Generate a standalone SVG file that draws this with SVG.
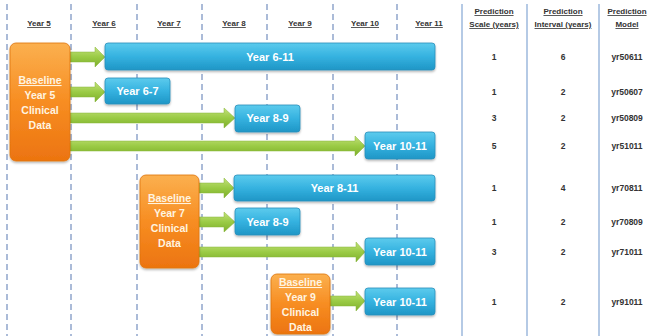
<svg xmlns="http://www.w3.org/2000/svg" width="653" height="336" viewBox="0 0 653 336">
<defs>
<linearGradient id="gBlue" x1="0" y1="0" x2="0" y2="1">
<stop offset="0" stop-color="#5ccbed"/><stop offset="0.5" stop-color="#35b2e0"/><stop offset="1" stop-color="#1f96c6"/>
</linearGradient>
<linearGradient id="gOrange" x1="0" y1="0" x2="0" y2="1">
<stop offset="0" stop-color="#fbb04f"/><stop offset="0.5" stop-color="#f78d22"/><stop offset="1" stop-color="#ec7410"/>
</linearGradient>
<linearGradient id="gGreen" x1="0" y1="0" x2="0" y2="1">
<stop offset="0" stop-color="#c3e07a"/><stop offset="0.5" stop-color="#9acb45"/><stop offset="1" stop-color="#7eae2c"/>
</linearGradient>
<filter id="sh" x="-10%" y="-20%" width="120%" height="150%">
<feDropShadow dx="0" dy="1.5" stdDeviation="1.2" flood-color="#000" flood-opacity="0.3"/>
</filter>
</defs>
<style>
.grid{stroke:#7f97c4;stroke-width:1.3;stroke-dasharray:6 4;fill:none}
.tbl{stroke:#9cb9dc;stroke-width:1.5;fill:none}
.hdr{font-family:"Liberation Sans",Arial,sans-serif;font-weight:bold;font-size:8px;fill:#333;text-anchor:middle;text-decoration:underline}
.val{font-family:"Liberation Sans",Arial,sans-serif;font-weight:bold;font-size:8.5px;fill:#333;text-anchor:middle}
.blue{fill:url(#gBlue);stroke:#2a8fbb;stroke-width:0.8;filter:url(#sh)}
.orange{fill:url(#gOrange);stroke:#e0740e;stroke-width:0.8;filter:url(#sh)}
.arrow{fill:url(#gGreen);stroke:#86b43a;stroke-width:0.5}
.bt{font-family:"Liberation Sans",Arial,sans-serif;font-weight:bold;font-size:11px;fill:#fff;text-anchor:middle}
.ot{font-family:"Liberation Sans",Arial,sans-serif;font-weight:bold;font-size:10.5px;fill:#fff4e0;text-anchor:middle}
</style>
<rect width="653" height="336" fill="#fff"/>
<g id="grid">
<line class="grid" x1="7" y1="4" x2="7" y2="336"/>
<line class="grid" x1="71" y1="4" x2="71" y2="336"/>
<line class="grid" x1="137" y1="4" x2="137" y2="336"/>
<line class="grid" x1="202" y1="4" x2="202" y2="336"/>
<line class="grid" x1="267" y1="4" x2="267" y2="336"/>
<line class="grid" x1="333" y1="4" x2="333" y2="336"/>
<line class="grid" x1="397" y1="4" x2="397" y2="336"/>
<line class="tbl" x1="462" y1="4" x2="462" y2="336"/>
<line class="tbl" x1="527" y1="4" x2="527" y2="336"/>
<line class="tbl" x1="599" y1="4" x2="599" y2="336"/>
</g>
<g id="headers">
<text class="hdr" x="39" y="26">Year 5</text>
<text class="hdr" x="104" y="26">Year 6</text>
<text class="hdr" x="169" y="26">Year 7</text>
<text class="hdr" x="234" y="26">Year 8</text>
<text class="hdr" x="300" y="26">Year 9</text>
<text class="hdr" x="365" y="26">Year 10</text>
<text class="hdr" x="429" y="26">Year 11</text>
<text class="hdr" x="494" y="14">Prediction</text>
<text class="hdr" x="494" y="27">Scale (years)</text>
<text class="hdr" x="563" y="14">Prediction</text>
<text class="hdr" x="563" y="27">Interval (years)</text>
<text class="hdr" x="627" y="14">Prediction</text>
<text class="hdr" x="627" y="27">Model</text>
</g>
<g id="connectors">
<path class="arrow" d="M70,52 H95 V47 L105,57 L95,67 V62 H70 Z"/>
<path class="arrow" d="M70,87 H95 V82 L105,92 L95,102 V97 H70 Z"/>
<path class="arrow" d="M70,113 H224 V108 L235,118 L224,128 V123 H70 Z"/>
<path class="arrow" d="M70,141 H355 V136 L365,146 L355,156 V151 H70 Z"/>
<path class="arrow" d="M199,183 H224 V178 L234,188 L224,198 V193 H199 Z"/>
<path class="arrow" d="M199,217 H224 V212 L235,222 L224,232 V227 H199 Z"/>
<path class="arrow" d="M199,247 H356 V242 L365,252 L356,262 V257 H199 Z"/>
<path class="arrow" d="M329,296 H356 V291 L365,301 L356,311 V306 H329 Z"/>
</g>
<g id="baseline5">
<rect class="orange" x="10" y="43" width="60" height="118" rx="6"/>
<text class="ot" x="40" y="84" text-decoration="underline">Baseline</text>
<text class="ot" x="40" y="99">Year 5</text>
<text class="ot" x="40" y="114">Clinical</text>
<text class="ot" x="40" y="129">Data</text>
</g>
<g id="baseline7">
<rect class="orange" x="140" y="175" width="59" height="93" rx="6"/>
<text class="ot" x="169.5" y="202" text-decoration="underline">Baseline</text>
<text class="ot" x="169.5" y="217">Year 7</text>
<text class="ot" x="169.5" y="232">Clinical</text>
<text class="ot" x="169.5" y="247">Data</text>
</g>
<g id="baseline9">
<rect class="orange" x="271" y="274" width="59" height="60" rx="6"/>
<text class="ot" x="300.5" y="286" text-decoration="underline">Baseline</text>
<text class="ot" x="300.5" y="301">Year 9</text>
<text class="ot" x="300.5" y="316">Clinical</text>
<text class="ot" x="300.5" y="331">Data</text>
</g>
<g id="yr50611"><rect class="blue" x="105" y="43" width="330" height="27" rx="3"/><text class="bt" x="270" y="60.5">Year 6-11</text></g>
<g id="yr50607"><rect class="blue" x="105" y="78" width="65" height="26" rx="3"/><text class="bt" x="137.5" y="95">Year 6-7</text></g>
<g id="yr50809"><rect class="blue" x="235" y="105" width="65" height="27" rx="3"/><text class="bt" x="267.5" y="122">Year 8-9</text></g>
<g id="yr51011"><rect class="blue" x="365" y="132" width="70" height="27" rx="3"/><text class="bt" x="400" y="149.5">Year 10-11</text></g>
<g id="yr70811"><rect class="blue" x="234" y="175" width="201" height="26" rx="3"/><text class="bt" x="334.5" y="192">Year 8-11</text></g>
<g id="yr70809"><rect class="blue" x="235" y="208" width="65" height="27" rx="3"/><text class="bt" x="267.5" y="225.5">Year 8-9</text></g>
<g id="yr71011"><rect class="blue" x="365" y="238" width="70" height="27" rx="3"/><text class="bt" x="400" y="255.5">Year 10-11</text></g>
<g id="yr91011"><rect class="blue" x="365" y="288" width="70" height="27" rx="3"/><text class="bt" x="400" y="305.5">Year 10-11</text></g>
<g id="table">
<text class="val" x="494" y="60">1</text><text class="val" x="563" y="60">6</text><text class="val" x="627" y="60">yr50611</text>
<text class="val" x="494" y="95">1</text><text class="val" x="563" y="95">2</text><text class="val" x="627" y="95">yr50607</text>
<text class="val" x="494" y="121">3</text><text class="val" x="563" y="121">2</text><text class="val" x="627" y="121">yr50809</text>
<text class="val" x="494" y="149">5</text><text class="val" x="563" y="149">2</text><text class="val" x="627" y="149">yr51011</text>
<text class="val" x="494" y="191">1</text><text class="val" x="563" y="191">4</text><text class="val" x="627" y="191">yr70811</text>
<text class="val" x="494" y="225">1</text><text class="val" x="563" y="225">2</text><text class="val" x="627" y="225">yr70809</text>
<text class="val" x="494" y="255">3</text><text class="val" x="563" y="255">2</text><text class="val" x="627" y="255">yr71011</text>
<text class="val" x="494" y="305">1</text><text class="val" x="563" y="305">2</text><text class="val" x="627" y="305">yr91011</text>
</g>
</svg>
